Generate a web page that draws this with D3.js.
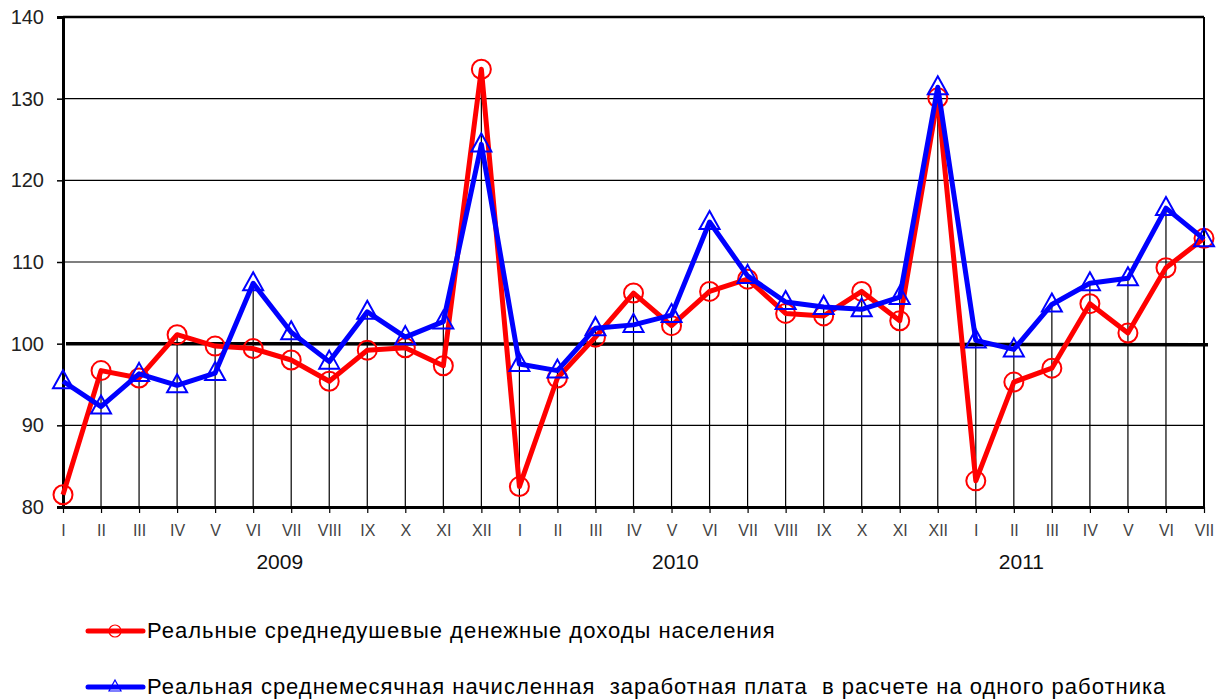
<!DOCTYPE html>
<html>
<head>
<meta charset="utf-8">
<script src="https://cdn.jsdelivr.net/npm/d3@7"></script>
<style>
    body { margin: 0; background: #fff; }
    text { font-family: "Liberation Sans", Arial, sans-serif; }
</style>
</head>
<body>
<script>
//month labels along the bottom axis
var months = ["I","II","III","IV","V","VI","VII","VIII","IX","X","XI","XII",
    "I","II","III","IV","V","VI","VII","VIII","IX","X","XI","XII",
    "I","II","III","IV","V","VI","VII"];

//real per capita money income
var income = [81.5, 96.7, 95.8, 101.1, 99.7, 99.4, 98.0, 95.4, 99.2, 99.5, 97.3, 133.6,
    82.5, 95.8, 100.8, 106.2, 102.2, 106.4, 107.9, 103.7, 103.4, 106.4, 102.8, 130.1,
    83.2, 95.3, 97.0, 104.9, 101.3, 109.3, 112.9];

//real average monthly wage
var wages = [95.4, 92.3, 96.3, 94.9, 96.4, 107.4, 101.4, 97.8, 103.9, 100.8, 102.7, 124.4,
    97.5, 96.7, 101.9, 102.3, 103.5, 114.9, 108.3, 105.1, 104.5, 104.2, 105.7, 131.4,
    100.4, 99.3, 104.8, 107.4, 108.0, 116.6, 112.8];

var yTicks = [80, 90, 100, 110, 120, 130, 140];
var years = [{label: "2009", at: 5.7}, {label: "2010", at: 16.1}, {label: "2011", at: 25.2}];
var legendNames = ["Реальные среднедушевые денежные доходы населения",
    "Реальная среднемесячная начисленная  заработная плата  в расчете на одного работника"];

var svg = d3.select("body").append("svg")
    .attr("width", 1222)
    .attr("height", 700);

var x = d3.scaleLinear()
    .domain([0, months.length - 1])
    .range([63, 1204]);

var y = d3.scaleLinear()
    .domain([80, 140])
    .range([507, 17]);

//horizontal gridlines
svg.selectAll(".grid")
    .data(yTicks.filter(function(d){ return d != 80 && d != 100; }))
    .enter()
    .append("line")
    .attr("x1", x(0))
    .attr("x2", x(months.length - 1))
    .attr("y1", function(d){ return y(d); })
    .attr("y2", function(d){ return y(d); })
    .style("stroke", "#000")
    .style("stroke-width", function(d){ return d == 140 ? 2.5 : 1.2; });

//right border
svg.append("line")
    .attr("x1", x(months.length - 1)).attr("x2", x(months.length - 1))
    .attr("y1", y(140)).attr("y2", y(80))
    .style("stroke", "#000")
    .style("stroke-width", 2);

//drop lines from the higher point down to the axis
svg.selectAll(".drop")
    .data(months)
    .enter()
    .append("line")
    .attr("x1", function(d, i){ return x(i); })
    .attr("x2", function(d, i){ return x(i); })
    .attr("y1", function(d, i){ return y(Math.max(income[i], wages[i])); })
    .attr("y2", y(80))
    .style("stroke", "#000")
    .style("stroke-width", 1.2);

//reference line at 100
svg.append("line")
    .attr("x1", x(0) + 3).attr("x2", x(months.length - 1) + 4)
    .attr("y1", y(100)).attr("y2", y(100) + 1)
    .style("stroke", "#000")
    .style("stroke-width", 3.5);

//axes
var yAxis = d3.axisLeft(y)
    .tickValues(yTicks)
    .tickSize(6)
    .tickPadding(13);

svg.append("g")
    .attr("transform", "translate(" + x(0) + ",0)")
    .call(yAxis)
    .call(function(g){
        g.select(".domain").style("stroke-width", 3);
        g.selectAll(".tick line").style("stroke-width", 1.5);
        g.selectAll("text").style("font-size", "20px").style("fill", "#222");
    });

var xAxis = d3.axisBottom(x)
    .tickValues(d3.range(months.length))
    .tickFormat(function(d){ return months[d]; })
    .tickSize(6)
    .tickPadding(12)
    .tickSizeOuter(0);

svg.append("g")
    .attr("transform", "translate(0," + y(80) + ")")
    .call(xAxis)
    .call(function(g){
        g.select(".domain").style("stroke-width", 3);
        g.selectAll(".tick line").style("stroke-width", 1.2);
        g.selectAll("text").style("font-size", "16px").style("fill", "#444");
    });

//year labels
svg.selectAll(".year")
    .data(years)
    .enter()
    .append("text")
    .attr("x", function(d){ return x(d.at); })
    .attr("y", 569)
    .attr("text-anchor", "middle")
    .style("font-size", "21px")
    .style("fill", "#111")
    .text(function(d){ return d.label; });

//series lines
var line = d3.line()
    .x(function(d, i){ return x(i); })
    .y(function(d){ return y(d); });

svg.append("path")
    .datum(income)
    .attr("d", line)
    .style("fill", "none")
    .style("stroke", "#ff0000")
    .style("stroke-width", 5)
    .style("stroke-linejoin", "round");

svg.selectAll(".circle")
    .data(income)
    .enter()
    .append("circle")
    .attr("cx", function(d, i){ return x(i); })
    .attr("cy", function(d){ return y(d); })
    .attr("r", 9.5)
    .style("fill", "none")
    .style("stroke", "#ff0000")
    .style("stroke-width", 2);

svg.append("path")
    .datum(wages)
    .attr("d", line)
    .style("fill", "none")
    .style("stroke", "#0000ff")
    .style("stroke-width", 5)
    .style("stroke-linejoin", "round");

var tri = "M0,-11L10,7L-10,7Z";

svg.selectAll(".tri")
    .data(wages)
    .enter()
    .append("path")
    .attr("d", tri)
    .attr("transform", function(d, i){ return "translate(" + x(i) + "," + y(d) + ")"; })
    .style("fill", "none")
    .style("stroke", "#0000ff")
    .style("stroke-width", 2);

//legend
var legend = svg.selectAll(".legend")
    .data(legendNames)
    .enter()
    .append("g")
    .attr("transform", function(d, i){ return "translate(88," + (631 + i * 56) + ")"; });

legend.append("line")
    .attr("x1", 0).attr("x2", 55)
    .style("stroke", function(d, i){ return i == 0 ? "#ff0000" : "#0000ff"; })
    .style("stroke-width", 5)
    .style("stroke-linecap", "round");

legend.filter(function(d, i){ return i == 0; })
    .append("circle")
    .attr("cx", 27).attr("r", 6)
    .style("fill", "none")
    .style("stroke", "#ff0000")
    .style("stroke-width", 1.2);

legend.filter(function(d, i){ return i == 1; })
    .append("path")
    .attr("d", "M27,-7L33,4L21,4Z")
    .style("fill", "none")
    .style("stroke", "#0000ff")
    .style("stroke-width", 1.2);

legend.append("text")
    .attr("x", 59)
    .attr("y", 7)
    .style("font-size", "22px")
    .style("letter-spacing", "1px")
    .style("fill", "#000")
    .style("white-space", "pre")
    .text(function(d){ return d; });
</script>
</body>
</html>
